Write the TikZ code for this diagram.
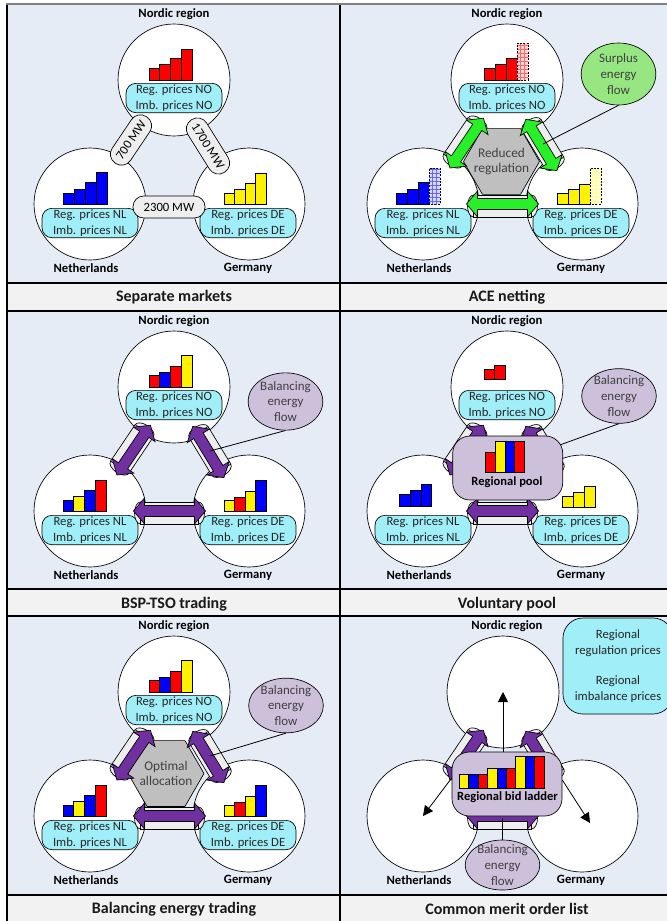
\documentclass[tikz,border=0pt]{standalone}
\usepackage{fontspec}
\setmainfont{Carlito}
\usetikzlibrary{shapes.geometric,patterns,arrows.meta,calc}

\definecolor{panelbg}{RGB}{230,236,246}
\definecolor{titlebg}{RGB}{242,242,242}
\definecolor{pricecyan}{RGB}{160,238,248}
\definecolor{flowpurple}{RGB}{112,48,160}
\definecolor{flowgreen}{RGB}{40,240,40}
\definecolor{surplusgreen}{RGB}{150,230,130}
\definecolor{lilac}{RGB}{204,192,218}
\definecolor{tubegray}{RGB}{238,238,238}
\definecolor{hexgray}{RGB}{191,191,191}
\definecolor{txtgray}{RGB}{64,64,64}
\definecolor{topgray}{RGB}{128,128,128}

\tikzset{
  outline/.style={draw=black, line width=0.5pt},
  circ/.style={circle, outline, fill=white, minimum size=84pt, inner sep=0pt},
  reglabel/.style={inner sep=0pt, font=\fontsize{9.5}{11}\selectfont\bfseries},
  pricebox/.style={rectangle, rounded corners=7.5pt, outline, fill=pricecyan, minimum width=72pt, minimum height=22pt, inner sep=0pt, align=center, text=black!85},
  pill/.style={rectangle, rounded corners=8pt, outline, fill=tubegray, minimum height=16.5pt, inner sep=0pt},
  tubestyle/.style={outline, fill=tubegray},
  barline/.style={draw=black, line width=0.6pt},
  titletext/.style={inner sep=0pt, font=\fontsize{12}{14}\selectfont\bfseries, text=black!90},
  hexnode/.style={regular polygon, regular polygon sides=6, minimum size=57pt, inner sep=0pt, outline, fill=hexgray},
  innertext/.style={inner sep=0pt, align=center, text=txtgray, font=\fontsize{9.7}{11.8}\selectfont},
  flowellipse/.style={ellipse, outline, inner sep=0pt},
  poolbox/.style={rectangle, rounded corners=13pt, outline, fill=lilac, minimum width=82.5pt, minimum height=48pt, inner sep=0pt},
  boldtext/.style={inner sep=0pt, font=\fontsize{9.4}{11}\selectfont\bfseries},
  pointer/.style={line width=0.6pt},
  thinarrow/.style={line width=0.6pt, -{Triangle[length=7.5pt,width=7.5pt]}},
  gridline/.style={line width=1.1pt, draw=black},
}

% bars: left x, bottom y, bar width, list colour/height
\newcommand\barrow[4]{%
  \foreach \bc/\bh [count=\bi from 0] in {#4}
    \filldraw[barline, fill=\bc] ({#1+\bi*#3},#2) rectangle ++(#3,-\bh);
}
% patterned bar: x, bottom, width, height, base fill, pattern colour
\newcommand\patbar[6]{%
  \fill[#5] (#1,#2) rectangle ++(#3,-#4);
  \fill[pattern=grid, pattern color=#6] (#1,#2) rectangle ++(#3,-#4);
  \draw[line width=0.6pt, dash pattern=on 1.5pt off 1pt] (#1,#2) rectangle ++(#3,-#4);
}
\newcommand\regions[2]{%
  \node[circ] (#1no) at (#2,76) {};
  \node[circ] (#1nl) at (83,200) {};
  \node[circ] (#1de) at (242,200) {};
  \node[reglabel] (#1tno) at (167,10) {Nordic region};
  \node[reglabel] (#1tnl) at (79,264) {Netherlands};
  \node[reglabel] (#1tde) at (241,264) {Germany};
}
\newcommand\pricetags[1]{%
  \node[pricebox] (#1pno) at (167,94) {Reg. prices NO\\Imb. prices NO};
  \node[pricebox] (#1pnl) at (83,219) {Reg. prices NL\\Imb. prices NL};
  \node[pricebox] (#1pde) at (241,219) {Reg. prices DE\\Imb. prices DE};
}
% tube: name, centre, angle, half length
\newcommand\tubeat[4]{%
  \coordinate (#1) at #2;
  \begin{scope}[shift={#2}, rotate=#3]
    \filldraw[tubestyle] (-#4,0) ellipse [x radius=4.5pt, y radius=8.25pt];
    \filldraw[tubestyle] (#4,0) ellipse [x radius=4.5pt, y radius=8.25pt];
    \filldraw[tubestyle] (-#4,-11) rectangle (#4,11);
  \end{scope}}
% double arrow: centre, angle, half length, offset, colour
\newcommand\dblarrow[5]{%
  \begin{scope}[shift={#1}, rotate=#2]
    \filldraw[outline, fill=#5]
      (-#3,#4) -- ({-#3+11},{#4-13}) -- ({-#3+11},{#4-5.5}) -- ({#3-11},{#4-5.5})
      -- ({#3-11},{#4-13}) -- (#3,#4) -- ({#3-11},{#4+13}) -- ({#3-11},{#4+5.5})
      -- ({-#3+11},{#4+5.5}) -- ({-#3+11},{#4+13}) -- cycle;
  \end{scope}}
\newcommand\tubes[1]{%
  \tubeat{#1l}{(125,138)}{56}{22}
  \tubeat{#1r}{(203,140)}{-58.8}{22}
  \tubeat{#1b}{(162.5,202)}{0}{29}
}
\newcommand\flows[1]{%
  \dblarrow{(125,138)}{56}{30}{2}{#1}
  \dblarrow{(203,140)}{-58.8}{30}{2}{#1}
  \dblarrow{(162.5,202)}{0}{36}{-2}{#1}
}
\newcommand\paneltitle[2]{\node[titletext] (#1title) at (167,293) {#2};}

\begin{document}
\begin{tikzpicture}[x=0.75pt, y=-0.75pt, font=\fontsize{9.5}{12}\selectfont]
\useasboundingbox (0,0) rectangle (667,921);
\clip (0,0) rectangle (667,921);
\fill[white] (0,0) rectangle (667,921);
\fill[panelbg] (7,4) rectangle (680,283);
\fill[panelbg] (7,311) rectangle (680,589);
\fill[panelbg] (7,616) rectangle (680,895);
\fill[titlebg] (7,283) rectangle (680,311);
\fill[titlebg] (7,589) rectangle (680,616);
\fill[titlebg] (7,895) rectangle (680,930);

% ---------- Panel 1: Separate markets ----------
\begin{scope}[shift={(7,4)}]
  \regions{p1}{167}
  \barrow{142}{76}{10.75}{red/12,red/16,red/22,red/31}
  \barrow{56}{200}{11}{blue/11,blue/15,blue/22,blue/32}
  \barrow{217}{200}{10.5}{yellow/11,yellow/15,yellow/21,yellow/31}
  \pricetags{p1}
  \node[pill, minimum width=42pt, rotate=56] (p1cl) at (124,136) {700 MW};
  \node[pill, minimum width=46.5pt, rotate=-58] (p1cr) at (201,142) {1700 MW};
  \node[pill, minimum width=54pt] (p1cb) at (162,203) {2300 MW};
  \paneltitle{p1}{Separate markets}
\end{scope}

% ---------- Panel 2: ACE netting ----------
\begin{scope}[shift={(340,4)}]
  \regions{p2}{167}
  \barrow{144}{76}{11}{red/12,red/16,red/22}
  \patbar{177}{76}{11}{37}{red!15}{red!60}
  \barrow{56}{200}{11}{blue/11,blue/15,blue/22}
  \patbar{89}{200}{11}{36}{blue!15}{blue!60}
  \barrow{217}{200}{11}{yellow/11,yellow/15,yellow/20}
  \patbar{250}{200}{11}{36}{yellow!15}{yellow!40}
  \pricetags{p2}
  \tubes{p2}
  \node[hexnode] (p2hex) at (161.5,157.5) {};
  \node[innertext, font=\fontsize{10}{11.8}\selectfont] (p2hextxt) at (p2hex) {Reduced\\regulation};
  \flows{flowgreen}
  \node[flowellipse, fill=surplusgreen, minimum width=56pt, minimum height=46.5pt] (p2surplus) at (278.5,70) {};
  \node[innertext] (p2surplustxt) at (p2surplus) {Surplus\\energy\\flow};
  \draw[pointer] (p2surplus.south) -- (p2r);
  \paneltitle{p2}{ACE netting}
\end{scope}

% ---------- Panel 3: BSP-TSO trading ----------
\begin{scope}[shift={(7,311)}]
  \regions{p3}{167}
  \barrow{142}{76}{10.75}{red/12,blue/15,red/21,yellow/32}
  \barrow{56}{200}{10.75}{blue/11,yellow/15,blue/21,red/31}
  \barrow{217}{200}{10.5}{yellow/11,red/14,yellow/20,blue/31}
  \pricetags{p3}
  \tubes{p3}
  \flows{flowpurple}
  \node[flowellipse, fill=lilac, minimum width=56pt, minimum height=43pt] (p3flow) at (278.5,90.5) {};
  \node[innertext] (p3flowtxt) at (p3flow) {Balancing\\energy\\flow};
  \draw[pointer] (p3flow.south) -- (p3r);
  \paneltitle{p3}{BSP-TSO trading}
\end{scope}

% ---------- Panel 4: Voluntary pool ----------
\begin{scope}[shift={(340,311)}]
  \regions{p4}{167}
  \barrow{144}{68}{10.85}{red/10,red/14}
  \barrow{59.3}{195}{10.8}{blue/12,blue/16,blue/22}
  \barrow{222.3}{196}{10.9}{yellow/11,yellow/15,yellow/21}
  \pricetags{p4}
  \tubes{p4}
  \flows{flowpurple}
  \node[flowellipse, fill=lilac, minimum width=56pt, minimum height=41pt] (p4flow) at (279,85) {};
  \node[innertext] (p4flowtxt) at (p4flow) {Balancing\\energy\\flow};
  \draw[pointer] (p4flow.south) -- (p4r);
  \node[poolbox] (p4pool) at (167.7,157) {};
  \barrow{145.7}{161.3}{9.6}{red/19.6,yellow/30.6,blue/30.6,red/30.6}
  \node[boldtext] (p4pooltxt) at (167,171) {Regional pool};
  \paneltitle{p4}{Voluntary pool}
\end{scope}

% ---------- Panel 5: Balancing energy trading ----------
\begin{scope}[shift={(7,616)}]
  \regions{p5}{167}
  \barrow{142}{76}{10.75}{red/12,blue/15,red/21,yellow/32}
  \barrow{56}{200}{10.75}{blue/11,yellow/15,blue/21,red/31}
  \barrow{217}{200}{10.5}{yellow/11,red/14,yellow/20,blue/31}
  \pricetags{p5}
  \tubes{p5}
  \node[hexnode] (p5hex) at (159,157.5) {};
  \node[innertext, font=\fontsize{10}{11.8}\selectfont] (p5hextxt) at (p5hex) {Optimal\\allocation};
  \flows{flowpurple}
  \node[flowellipse, fill=lilac, minimum width=56pt, minimum height=41pt] (p5flow) at (279,89.5) {};
  \node[innertext] (p5flowtxt) at (p5flow) {Balancing\\energy\\flow};
  \draw[pointer] (p5flow.south) -- (p5r);
  \paneltitle{p5}{Balancing energy trading}
\end{scope}

% ---------- Panel 6: Common merit order list ----------
\begin{scope}[shift={(340,616)}]
  \regions{p6}{163}
  \tubes{p6}
  \flows{flowpurple}
  \node[flowellipse, fill=lilac, minimum width=56pt, minimum height=37.5pt] (p6flow) at (162.5,249) {};
  \draw[pointer] (p6b) -- (p6flow.north);
  \node[innertext] (p6flowtxt) at (p6flow) {Balancing\\energy\\flow};
  \node[poolbox] (p6ladder) at (167,168) {};
  \barrow{119.3}{172}{9.4}{yellow/14,blue/14,red/14,yellow/20,blue/20,red/20,yellow/32,blue/32,red/32}
  \node[boldtext] (p6laddertxt) at (167.5,181) {Regional bid ladder};
  \coordinate (p6tip) at (250,207);
  \draw[thinarrow] (p6ladder.north -| p6no.center) -- (p6no.center);
  \draw[thinarrow] ([yshift=4.5pt]p6ladder.west) -- (p6nl.center);
  \draw[thinarrow] ([yshift=3pt]p6ladder.east) -- (p6tip);
  \node[pricebox, rounded corners=15pt, minimum width=82.5pt, minimum height=72pt] (p6prices) at (278,50)
    {Regional\\regulation prices\\[11pt]Regional\\imbalance prices};
  \paneltitle{p6}{Common merit order list}
\end{scope}

% ---------- grid lines ----------
\draw[gridline] (7,283) -- (680,283);
\draw[gridline] (7,311) -- (680,311);
\draw[gridline] (7,589) -- (680,589);
\draw[gridline] (7,616) -- (680,616);
\draw[gridline] (7,895) -- (680,895);
\draw[gridline] (7,4) -- (7,930);
\draw[gridline] (340,4) -- (340,930);
\draw[line width=1.5pt, topgray] (6,4) -- (680,4);
\end{tikzpicture}
\end{document}
